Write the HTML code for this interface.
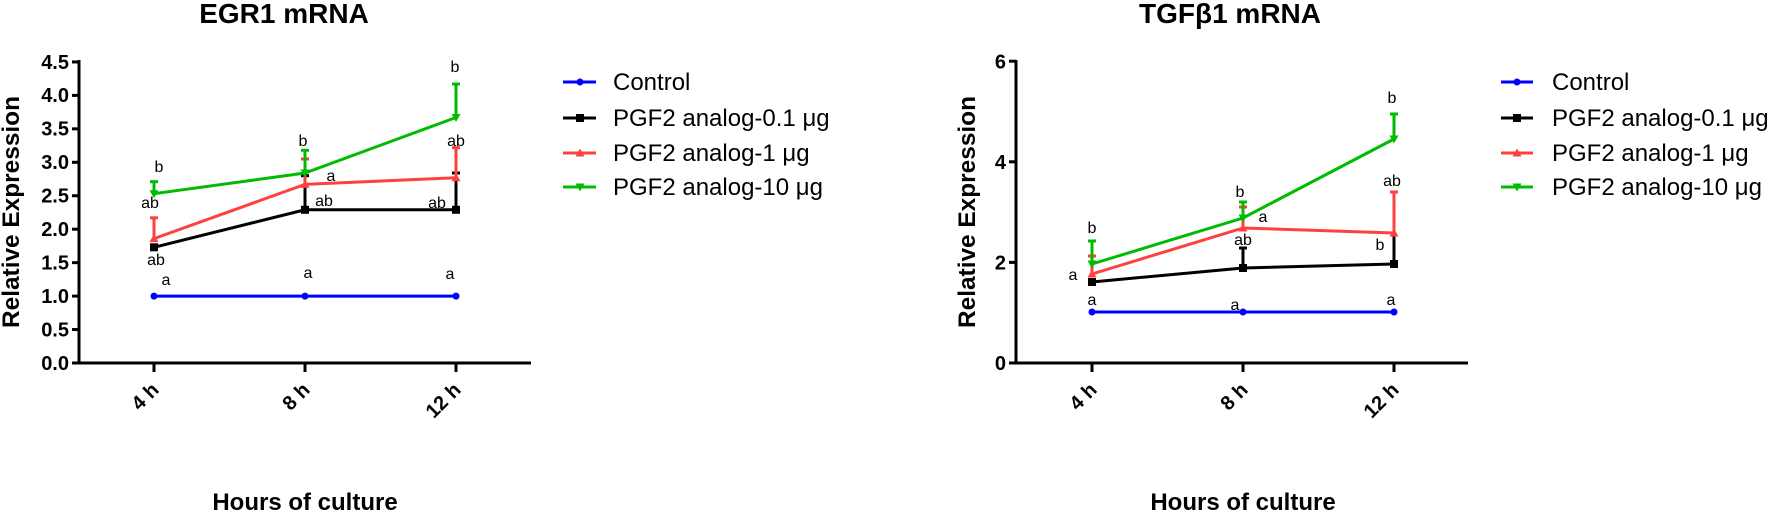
<!DOCTYPE html>
<html><head><meta charset="utf-8"><style>
html,body{margin:0;padding:0;background:#fff}
svg{display:block}
text{font-family:"Liberation Sans",Arial,sans-serif}
.b{font-weight:bold}
</style></head><body>
<svg width="1773" height="512" viewBox="0 0 1773 512" xmlns="http://www.w3.org/2000/svg">
<defs>
<g id="mc"><circle r="3.5" fill="#0000ff"/></g>
<g id="ms"><rect x="-4" y="-4" width="8" height="8" fill="#000"/></g>
<g id="mt"><polygon points="0,-4.5 4.5,3.5 -4.5,3.5" fill="#ff4040"/></g>
<g id="mv"><polygon points="0,4.5 4.5,-3.5 -4.5,-3.5" fill="#00bb00"/></g>
</defs>

<!-- ===== LEFT CHART ===== -->
<text x="284" y="23" class="b" font-size="28" text-anchor="middle">EGR1 mRNA</text>
<text transform="translate(19,212) rotate(-90)" class="b" font-size="24" text-anchor="middle" textLength="232" lengthAdjust="spacingAndGlyphs">Relative Expression</text>
<g stroke="#000" stroke-width="3" fill="none">
<line x1="79" y1="60" x2="79" y2="364.5"/>
<line x1="77.5" y1="363" x2="531" y2="363"/>
<line x1="72" y1="363" x2="79" y2="363"/><line x1="72" y1="329.55" x2="79" y2="329.55"/><line x1="72" y1="296.1" x2="79" y2="296.1"/><line x1="72" y1="262.65" x2="79" y2="262.65"/><line x1="72" y1="229.2" x2="79" y2="229.2"/><line x1="72" y1="195.75" x2="79" y2="195.75"/><line x1="72" y1="162.3" x2="79" y2="162.3"/><line x1="72" y1="128.85" x2="79" y2="128.85"/><line x1="72" y1="95.4" x2="79" y2="95.4"/><line x1="72" y1="61.95" x2="79" y2="61.95"/>
<line x1="154" y1="363" x2="154" y2="372"/><line x1="305" y1="363" x2="305" y2="372"/><line x1="456" y1="363" x2="456" y2="372"/>
</g>
<g class="b" font-size="20" text-anchor="end">
<text x="69" y="370">0.0</text><text x="69" y="336.5">0.5</text><text x="69" y="303">1.0</text><text x="69" y="269.5">1.5</text><text x="69" y="236">2.0</text><text x="69" y="202.5">2.5</text><text x="69" y="169">3.0</text><text x="69" y="135.5">3.5</text><text x="69" y="102">4.0</text><text x="69" y="69">4.5</text>
</g>
<g class="b" font-size="20" text-anchor="end">
<text transform="translate(160,391) rotate(-45)">4 h</text>
<text transform="translate(311,391) rotate(-45)">8 h</text>
<text transform="translate(462,391) rotate(-45)">12 h</text>
</g>
<text x="305" y="510" class="b" font-size="24" text-anchor="middle">Hours of culture</text>

<!-- error bars left -->
<g stroke-width="3" fill="none">
<g stroke="#000"><line x1="305" y1="209.8" x2="305" y2="175.7"/><line x1="301" y1="175.7" x2="309" y2="175.7"/><line x1="456" y1="209.8" x2="456" y2="173"/><line x1="452" y1="173" x2="460" y2="173"/></g>
<g stroke="#ff4040"><line x1="154" y1="238.6" x2="154" y2="217.8"/><line x1="150" y1="217.8" x2="158" y2="217.8"/><line x1="305" y1="184.4" x2="305" y2="159"/><line x1="301" y1="159" x2="309" y2="159"/><line x1="456" y1="177.7" x2="456" y2="147.6"/><line x1="452" y1="147.6" x2="460" y2="147.6"/></g>
<g stroke="#00bb00"><line x1="154" y1="193.7" x2="154" y2="181.7"/><line x1="150" y1="181.7" x2="158" y2="181.7"/><line x1="305" y1="173" x2="305" y2="150.3"/><line x1="301" y1="150.3" x2="309" y2="150.3"/><line x1="456" y1="117.5" x2="456" y2="84"/><line x1="452" y1="84" x2="460" y2="84"/></g>
</g>
<g stroke-width="3" fill="none">
<polyline stroke="#0000ff" points="154,296.1 305,296.1 456,296.1"/>
<polyline stroke="#000" points="154,247.3 305,209.8 456,209.8"/>
<polyline stroke="#ff4040" points="154,238.6 305,184.4 456,177.7"/>
<polyline stroke="#00bb00" points="154,193.7 305,173 456,117.5"/>
</g>
<use href="#mc" x="154" y="296.1"/><use href="#mc" x="305" y="296.1"/><use href="#mc" x="456" y="296.1"/>
<use href="#ms" x="154" y="247.3"/><use href="#ms" x="305" y="209.8"/><use href="#ms" x="456" y="209.8"/>
<use href="#mt" x="154" y="238.6"/><use href="#mt" x="305" y="184.4"/><use href="#mt" x="456" y="177.7"/>
<use href="#mv" x="154" y="193.7"/><use href="#mv" x="305" y="173"/><use href="#mv" x="456" y="117.5"/>
<g font-size="16" text-anchor="middle">
<text x="159" y="172">b</text><text x="150" y="208">ab</text><text x="156" y="265">ab</text><text x="166" y="285">a</text>
<text x="303" y="146">b</text><text x="331" y="181">a</text><text x="324" y="206">ab</text><text x="308" y="278">a</text>
<text x="455" y="72">b</text><text x="456" y="146">ab</text><text x="437" y="208">ab</text><text x="450" y="279">a</text>
</g>
<!-- legend left -->
<g stroke-width="3">
<line x1="563" y1="82" x2="596" y2="82" stroke="#0000ff"/>
<line x1="563" y1="118" x2="596" y2="118" stroke="#000"/>
<line x1="563" y1="153" x2="596" y2="153" stroke="#ff4040"/>
<line x1="563" y1="187" x2="596" y2="187" stroke="#00bb00"/>
</g>
<use href="#mc" x="580" y="82"/><use href="#ms" x="580" y="118"/><use href="#mt" x="580" y="153"/><use href="#mv" x="580" y="187"/>
<g font-size="24">
<text x="613" y="90">Control</text>
<text x="613" y="126">PGF2 analog-0.1 μg</text>
<text x="613" y="161">PGF2 analog-1 μg</text>
<text x="613" y="195">PGF2 analog-10 μg</text>
</g>

<!-- ===== RIGHT CHART ===== -->
<text x="1230" y="23" class="b" font-size="28" text-anchor="middle">TGFβ1 mRNA</text>
<text transform="translate(975,212) rotate(-90)" class="b" font-size="24" text-anchor="middle" textLength="232" lengthAdjust="spacingAndGlyphs">Relative Expression</text>
<g stroke="#000" stroke-width="3" fill="none">
<line x1="1016" y1="60" x2="1016" y2="364.5"/>
<line x1="1014.5" y1="363" x2="1468" y2="363"/>
<line x1="1009" y1="363" x2="1016" y2="363"/><line x1="1009" y1="262.4" x2="1016" y2="262.4"/><line x1="1009" y1="161.8" x2="1016" y2="161.8"/><line x1="1009" y1="61.2" x2="1016" y2="61.2"/>
<line x1="1092" y1="363" x2="1092" y2="372"/><line x1="1243" y1="363" x2="1243" y2="372"/><line x1="1394" y1="363" x2="1394" y2="372"/>
</g>
<g class="b" font-size="20" text-anchor="end">
<text x="1006" y="370">0</text><text x="1006" y="269.5">2</text><text x="1006" y="169">4</text><text x="1006" y="68.5">6</text>
</g>
<g class="b" font-size="20" text-anchor="end">
<text transform="translate(1098,391) rotate(-45)">4 h</text>
<text transform="translate(1249,391) rotate(-45)">8 h</text>
<text transform="translate(1400,391) rotate(-45)">12 h</text>
</g>
<text x="1243" y="510" class="b" font-size="24" text-anchor="middle">Hours of culture</text>

<g stroke-width="3" fill="none">
<g stroke="#000"><line x1="1243" y1="268" x2="1243" y2="248"/><line x1="1239" y1="248" x2="1247" y2="248"/><line x1="1394" y1="264" x2="1394" y2="233"/></g>
<g stroke="#ff4040"><line x1="1092" y1="274" x2="1092" y2="256"/><line x1="1088" y1="256" x2="1096" y2="256"/><line x1="1243" y1="228" x2="1243" y2="207"/><line x1="1239" y1="207" x2="1247" y2="207"/><line x1="1394" y1="233" x2="1394" y2="192"/><line x1="1390" y1="192" x2="1398" y2="192"/></g>
<g stroke="#00bb00"><line x1="1092" y1="264" x2="1092" y2="241"/><line x1="1088" y1="241" x2="1096" y2="241"/><line x1="1243" y1="218" x2="1243" y2="202"/><line x1="1239" y1="202" x2="1247" y2="202"/><line x1="1394" y1="139" x2="1394" y2="114"/><line x1="1390" y1="114" x2="1398" y2="114"/></g>
</g>
<g stroke-width="3" fill="none">
<polyline stroke="#0000ff" points="1092,312 1243,312 1394,312"/>
<polyline stroke="#000" points="1092,282 1243,268 1394,264"/>
<polyline stroke="#ff4040" points="1092,274 1243,228 1394,233"/>
<polyline stroke="#00bb00" points="1092,264 1243,218 1394,139"/>
</g>
<use href="#mc" x="1092" y="312"/><use href="#mc" x="1243" y="312"/><use href="#mc" x="1394" y="312"/>
<use href="#ms" x="1092" y="282"/><use href="#ms" x="1243" y="268"/><use href="#ms" x="1394" y="264"/>
<use href="#mt" x="1092" y="274"/><use href="#mt" x="1243" y="228"/><use href="#mt" x="1394" y="233"/>
<use href="#mv" x="1092" y="264"/><use href="#mv" x="1243" y="218"/><use href="#mv" x="1394" y="139"/>
<g font-size="16" text-anchor="middle">
<text x="1092" y="233">b</text><text x="1073" y="280">a</text><text x="1092" y="305">a</text>
<text x="1240" y="197">b</text><text x="1263" y="222">a</text><text x="1243" y="245">ab</text><text x="1235" y="310">a</text>
<text x="1392" y="103">b</text><text x="1392" y="186">ab</text><text x="1380" y="250">b</text><text x="1391" y="305">a</text>
</g>
<g stroke-width="3">
<line x1="1501" y1="82" x2="1533" y2="82" stroke="#0000ff"/>
<line x1="1501" y1="118" x2="1533" y2="118" stroke="#000"/>
<line x1="1501" y1="153" x2="1533" y2="153" stroke="#ff4040"/>
<line x1="1501" y1="187" x2="1533" y2="187" stroke="#00bb00"/>
</g>
<use href="#mc" x="1517" y="82"/><use href="#ms" x="1517" y="118"/><use href="#mt" x="1517" y="153"/><use href="#mv" x="1517" y="187"/>
<g font-size="24">
<text x="1552" y="90">Control</text>
<text x="1552" y="126">PGF2 analog-0.1 μg</text>
<text x="1552" y="161">PGF2 analog-1 μg</text>
<text x="1552" y="195">PGF2 analog-10 μg</text>
</g>
</svg>
</body></html>
